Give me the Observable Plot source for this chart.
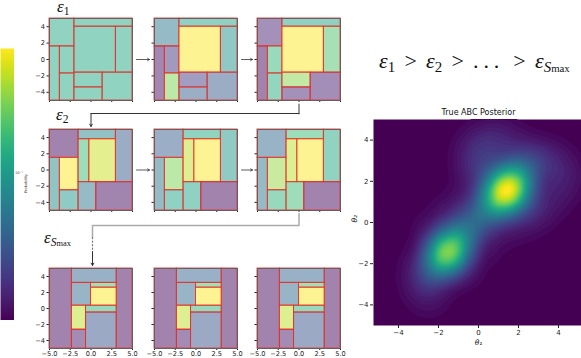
<!DOCTYPE html>
<html><head><meta charset="utf-8">
<script src="https://cdn.jsdelivr.net/npm/d3@7"></script>
<script src="https://cdn.jsdelivr.net/npm/@observablehq/plot@0.6"></script>
<style>
body{margin:0;background:#fff;}
#fig{position:relative;width:581px;height:358px;overflow:hidden;font-family:"DejaVu Sans",sans-serif;background:#fff;}
#fig > *{position:absolute;}
.m{font-family:"Liberation Serif",serif;line-height:1;white-space:nowrap;color:#111;}
.m i{font-style:italic;}
.m sub{font-size:0.68em;vertical-align:-0.28em;line-height:0;}
.m .rel{display:inline-block;margin:0 0.42em;}
.m .dots{display:inline-block;letter-spacing:0.22em;}
.tiny{font-size:3.6px;color:#333;white-space:nowrap;}
</style></head><body><div id="fig"></div>
<script>
// ---------- data ----------
// partition cells [x1, x2, y1, y2] for each epsilon stage
const cellsStage1 = [
  [-5,-2,1.6,5],[-5,-3.75,-5,1.6],[-3.75,-2,-1.7,1.6],[-3.75,-2,-5,-1.7],
  [-2,5,4,5],[-2,3,-1.6,4],[3,5,-1.6,4],[-2,1.4,-3.4,-1.6],[-2,1.4,-5,-3.4],[1.4,5,-5,-1.6]
];
const probsStage1 = [
  [0.6,0.6,0.6,0.6,0.6,0.6,0.6,0.6,0.6,0.6],
  [0.4,0.04,0.15,0.8,0.58,1.0,0.5,0.18,0.3,0.28],
  [0.1,0.02,0.66,0.62,0.58,1.0,0.72,0.82,0.1,0.08]
];
const cellsStage2 = [
  [-5,-1.5,1.5,5],[-5,-3.75,-5,1.5],[-3.75,-1.5,-2.5,1.5],[-3.75,-1.5,-5,-2.5],
  [-1.5,3,3.8,5],[3,5,-1.5,5],[-1.5,-0.2,-1.5,3.8],[-0.2,3,-1.5,3.8],[-1.5,0.63,-5,-1.5],[0.63,5,-5,-1.5]
];
const probsStage2 = [
  [0.02,0.48,1.0,0.52,0.45,0.28,0.68,0.92,0.4,0.03],
  [0.3,0.4,0.8,0.58,0.6,0.52,0.9,1.0,0.58,0.02],
  [0.33,0.4,0.84,0.65,0.68,0.6,0.9,1.0,0.68,0.02]
];
const cellsStage3 = [
  [-5,-2.3,-5,5],[3.1,5,-5,5],[-2.3,3.1,3.2,5],[-2.3,0,0.35,3.2],[0,3.1,2.6,3.2],
  [0,3.1,0.35,2.6],[-2.3,-0.6,-2.65,0.35],[-2.3,-0.6,-5,-2.65],[-0.6,3.1,-0.5,0.35],[-0.6,3.1,-5,-0.5]
];
const probsStage3 = [
  [0.02,0.02,0.32,0.35,0.7,1.0,0.9,0.06,0.65,0.26],
  [0.02,0.02,0.32,0.35,0.7,1.0,0.9,0.06,0.65,0.26],
  [0.02,0.02,0.32,0.35,0.7,1.0,0.9,0.06,0.65,0.26]
];
const xTicks = [-5,-2.5,0,2.5,5];
const yTicks = [-4,-2,0,2,4];
// posterior: weighted anchor points (theta1, theta2, weight)
const postX = [1.45,1.15,1.8,0.8,2.2,2.0,1.0, -1.55,-1.9,-1.2,-2.3,-0.8, -0.5,0.3,-0.7,0.4, -0.3,0.3,0.2,-0.4,1.0,1.8, 2.7,3.5,4.2,4.4,3.8,3.0,2.4,1.5, -2.8,-2.4,-3.1,-2.5,-1.7,-0.7,0.3];
const postY = [1.6,1.2,2.05,0.8,2.5,1.2,2.1, -1.45,-1.9,-1.0,-2.5,-0.5, -0.3,0.2,0.4,0.9, 2.2,2.8,3.8,3.4,4.2,3.6, 3.1,3.1,2.7,2.0,1.3,0.7,0.2,-0.2, -3.1,-3.8,-2.1,-0.5,0.5,-2.3,-1.2];
const postW = [5,2.5,2.5,1.5,1.5,1,1, 5.8,1.9,1.9,1,1.2, 1,1,0.7,1, 0.6,0.7,0.8,0.5,0.6,0.6, 0.8,0.6,0.5,0.4,0.5,0.6,0.5,0.4, 0.6,0.4,0.4,0.4,0.3,0.5,0.4];
const stageLabels = ["1","2","S"];
const formulaText = "ε1 > ε2 > … > εSmax";
const titleText = "True ABC Posterior";
const colorbarTickLabel = "10⁻¹";
const colorbarLabel = "Probability";

// ---------- layout ----------
const fig = document.getElementById("fig");
const PW = 83;
const rowH = [82, 81, 80];
const colLefts = [49, 154, 257];
const rowTops = [18, 129, 268];
const ml = 24, mr = 2, mt = 2, mb = 12;
const FONT = "DejaVu Sans, sans-serif";
const RED = "#e8302a";

function place(el, left, top) {
  el.style.position = "absolute";
  el.style.left = left + "px";
  el.style.top = top + "px";
  fig.appendChild(el);
}

function panel(cells, probs, r, c) {
  const data = cells.map((d, i) => ({x1: d[0], x2: d[1], y1: d[2], y2: d[3], p: probs[i]}));
  const showX = r === 2, showY = c === 0;
  const PH = rowH[r];
  const chart = Plot.plot({
    width: PW + ml + mr, height: PH + mt + mb,
    marginLeft: ml, marginRight: mr, marginTop: mt, marginBottom: mb,
    style: {fontSize: "6.6px", fontFamily: FONT, background: "transparent", color: "#222", overflow: "visible"},
    x: {domain: [-5, 5], ticks: xTicks, tickSize: 2, tickPadding: 1, label: null,
        tickFormat: showX ? d3.format(".1f") : () => ""},
    y: {domain: [-5, 5], ticks: yTicks, tickSize: 2.5, tickPadding: 2, label: null,
        tickFormat: showY ? d3.format("d") : () => ""},
    color: {type: "linear", domain: [0, 1], scheme: "viridis"},
    marks: [
      Plot.rect(data, {x1: "x1", x2: "x2", y1: "y1", y2: "y2", fill: "p", fillOpacity: 0.5,
                       stroke: RED, strokeWidth: 1, strokeOpacity: 0.85}),
      Plot.frame({stroke: "#6e5c5c", strokeWidth: 1})
    ]
  });
  place(chart, colLefts[c] - ml, rowTops[r] - mt);
}

const stages = [[cellsStage1, probsStage1], [cellsStage2, probsStage2], [cellsStage3, probsStage3]];
stages.forEach(([cells, probs], r) => probs.forEach((p, c) => panel(cells, p, r, c)));

// colorbar
const cbar = Plot.plot({
  width: 14, height: 272, margin: 0,
  style: {background: "transparent"},
  x: {domain: [0, 1], axis: null}, y: {domain: [0, 1], axis: null},
  color: {type: "linear", domain: [0, 1], scheme: "viridis"},
  marks: [Plot.raster({fill: (x, y) => y, x1: 0, x2: 1, y1: 0, y2: 1})]
});
place(cbar, 0, 48);
const cbt = document.createElement("div"); cbt.className = "tiny"; cbt.textContent = colorbarTickLabel;
place(cbt, 15, 171);
const cbl = document.createElement("div"); cbl.className = "tiny"; cbl.textContent = colorbarLabel;
cbl.style.transform = "rotate(-90deg)"; cbl.style.transformOrigin = "0 0";
place(cbl, 24, 193);

// posterior density
const post = postX.map((x, i) => ({x, y: postY[i], w: postW[i]}));
const dml = 26, dmt = 14, dmb = 26, dW = 210, dH = 206;
const dens = Plot.plot({
  width: dW + dml, height: dH + dmt + dmb,
  marginLeft: dml, marginRight: 0, marginTop: dmt, marginBottom: dmb,
  style: {fontSize: "7px", fontFamily: FONT, background: "transparent", color: "#222", overflow: "visible"},
  x: {domain: [-5.25, 5.25], ticks: yTicks, tickSize: 3, tickPadding: 1.5, label: null, tickFormat: d3.format("d")},
  y: {domain: [-5, 5], ticks: yTicks, tickSize: 3, tickPadding: 2, label: null, tickFormat: d3.format("d")},
  color: {type: "linear", scheme: "viridis"},
  marks: [
    Plot.frame({fill: "#440154"}),
    Plot.density(post, {x: "x", y: "y", weight: "w", bandwidth: 12.5, thresholds: 50, fill: "density", clip: true}),
    Plot.text([titleText], {frameAnchor: "top", dy: -10, fontSize: 8, fill: "#111"}),
    Plot.text(["θ₁"], {frameAnchor: "bottom", dy: 19, fontSize: 7.5, fontStyle: "italic", fill: "#111"}),
    Plot.text(["θ₂"], {frameAnchor: "left", dx: -19, rotate: -90, fontSize: 7.5, fontStyle: "italic", fill: "#111"})
  ]
});
place(dens, 373 - dml, 119 - dmt);

// connectors and arrows between stages (derived from layout)
const arrows = [];
for (let r = 0; r < 2; r++) for (let c = 0; c < 2; c++) {
  const y = rowTops[r] + rowH[r] / 2;
  arrows.push({x1: colLefts[c] + PW + 4, x2: colLefts[c + 1] - 5, y1: y, y2: y});
}
const cx = c => colLefts[c] + PW / 2;
const b0 = rowTops[0] + rowH[0], b1 = rowTops[1] + rowH[1];
const conn1a = [{x: cx(2), y: b0 + 4}, {x: cx(2), y: b0 + 13}];
const conn1b = [{x: cx(2), y: b0 + 13}, {x: cx(0), y: b0 + 13}];
const down1 = [{x1: cx(0), y1: b0 + 13, x2: cx(0), y2: rowTops[1] - 3}];
const yc2 = b1 + 15;
const conn2 = [{x: cx(2), y: b1 + 3}, {x: cx(2), y: yc2}, {x: cx(0) + 1.5, y: yc2}, {x: cx(0) + 1.5, y: yc2 + 12}];
const dots2 = [{x: cx(0) + 1.5, y: yc2 + 12}, {x: cx(0) + 1.5, y: yc2 + 25}];
const down2 = [{x1: cx(0) + 1.5, y1: yc2 + 26, x2: cx(0) + 1.5, y2: rowTops[2] - 3}];

const overlay = Plot.plot({
  width: 581, height: 358, margin: 0,
  style: {background: "transparent", pointerEvents: "none"},
  x: {domain: [0, 581], range: [0, 581], axis: null},
  y: {domain: [0, 358], range: [0, 358], axis: null},
  marks: [
    Plot.arrow(arrows, {x1: "x1", y1: "y1", x2: "x2", y2: "y2", stroke: "#333", strokeWidth: 0.8, headLength: 4}),
    Plot.line(conn1a, {x: "x", y: "y", stroke: "#999", strokeWidth: 2}),
    Plot.line(conn1b, {x: "x", y: "y", stroke: "#333", strokeWidth: 1}),
    Plot.arrow(down1, {x1: "x1", y1: "y1", x2: "x2", y2: "y2", stroke: "#333", strokeWidth: 1, headLength: 4}),
    Plot.line(conn2, {x: "x", y: "y", stroke: "#aaa", strokeWidth: 1.5}),
    Plot.line(dots2, {x: "x", y: "y", stroke: "#777", strokeWidth: 1.2, strokeDasharray: "1.2,2.3"}),
    Plot.arrow(down2, {x1: "x1", y1: "y1", x2: "x2", y2: "y2", stroke: "#333", strokeWidth: 1, headLength: 4})
  ]
});
place(overlay, 0, 0);

// epsilon labels
function epsLabel(sub, left, top, size) {
  const d = document.createElement("div");
  d.className = "m";
  d.style.fontSize = size + "px";
  if (sub === "S") d.innerHTML = '<i>ε</i><sub><i>S</i><span style="font-size:0.72em">max</span></sub>';
  else d.innerHTML = '<i>ε</i><sub>' + sub + '</sub>';
  place(d, left, top);
}
epsLabel(stageLabels[0], 57, -2, 17);
epsLabel(stageLabels[1], 56, 106, 17);
epsLabel(stageLabels[2], 44, 229, 17);

const f = document.createElement("div");
f.className = "m";
f.style.fontSize = "22px";
f.innerHTML = '<i>ε</i><sub>1</sub><span class="rel">&gt;</span><i>ε</i><sub>2</sub><span class="rel">&gt;</span><span class="dots">...</span><span class="rel">&gt;</span><i>ε</i><sub><i>S</i><span style="font-size:0.72em">max</span></sub>';
f.title = formulaText;
place(f, 379, 50);
</script>
</body></html>
